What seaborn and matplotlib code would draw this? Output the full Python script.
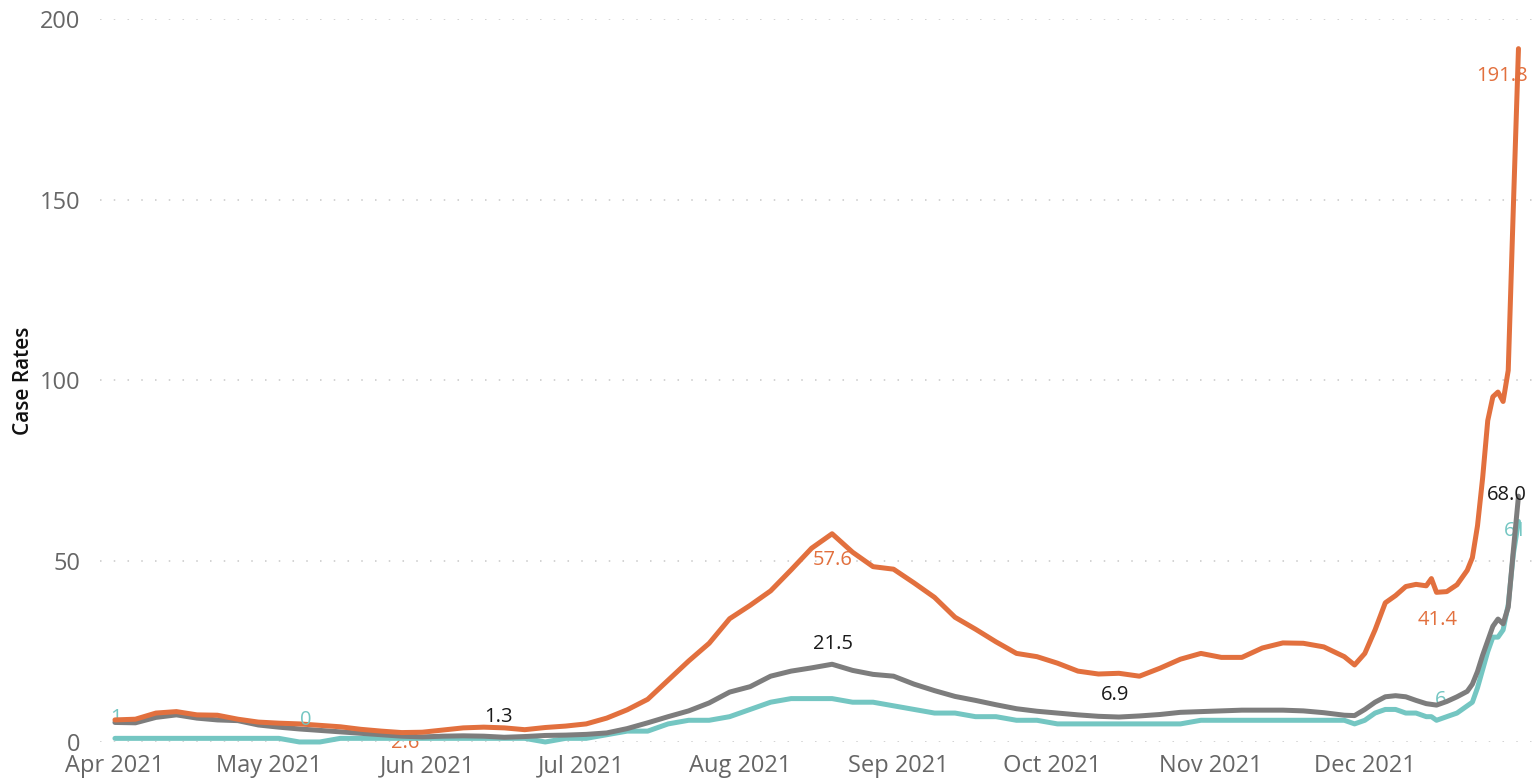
"""Case rates line chart, Apr - Dec 2021"""

import matplotlib.dates as mdates
import matplotlib.pyplot as plt
import pandas as pd
import seaborn as sns

sns.set_theme(style="white")
plt.rcParams["font.family"] = ["Open Sans", "DejaVu Sans"]

START = pd.Timestamp("2021-04-01")

# sample days (offset from 1 Apr 2021), denser near the December surge
day_offsets = list(range(0, 241, 4)) + [
    242, 244, 246, 248, 250, 252, 254, 256, 257, 258, 260, 262,
    264, 265, 266, 267, 268, 269, 270, 271, 272, 273, 274,
]

rate_high = [
    6.1, 6.3, 8.0, 8.4, 7.5, 7.4, 6.3, 5.5, 5.2, 5.0, 4.6, 4.2, 3.5, 3.0, 2.6, 2.7,
    3.3, 3.9, 4.1, 3.9, 3.4, 4.0, 4.4, 5.0, 6.6, 8.9, 11.8, 17.1, 22.4, 27.3, 34.1,
    37.8, 41.8, 47.6, 53.6, 57.6, 52.5, 48.5, 47.8, 44.0, 40.0, 34.5, 31.2, 27.7,
    24.5, 23.6, 21.8, 19.6, 18.8, 19.0, 18.2, 20.4, 22.9, 24.5, 23.4, 23.4, 26.0,
    27.4, 27.3, 26.3, 23.6,
    21.3, 24.5, 31.0, 38.5, 40.5, 43.0, 43.6, 43.2, 45.2, 41.4, 41.6, 43.5,
    47.5, 51.0, 59.8, 73.0, 88.9, 95.5, 96.8, 94.2, 102.8, 148.0, 191.8,
]

rate_mid = [
    5.4, 5.3, 6.8, 7.5, 6.6, 6.1, 5.9, 4.7, 4.1, 3.6, 3.2, 2.8, 2.4, 2.0, 1.6, 1.4,
    1.6, 1.7, 1.6, 1.3, 1.5, 1.8, 1.9, 2.1, 2.5, 3.7, 5.3, 7.0, 8.6, 10.8, 13.8,
    15.3, 18.2, 19.6, 20.5, 21.5, 19.8, 18.7, 18.2, 16.0, 14.2, 12.6, 11.5, 10.3,
    9.2, 8.5, 8.0, 7.5, 7.1, 6.9, 7.2, 7.6, 8.2, 8.4, 8.6, 8.8, 8.8,
    8.8, 8.6, 8.1, 7.4,
    7.3, 9.0, 11.0, 12.5, 12.8, 12.5, 11.5, 10.6, 10.4, 10.2, 11.2, 12.5,
    14.0, 16.0, 19.5, 24.0, 28.0, 32.0, 34.0, 32.7, 37.3, 53.0, 68.0,
]

rate_low = [
    1, 1, 1, 1, 1, 1, 1, 1, 1, 0, 0, 1, 1, 1, 1, 1,
    1, 1, 1, 1, 1, 0, 1, 1, 2, 3, 3, 5, 6, 6, 7,
    9, 11, 12, 12, 12, 11, 11, 10, 9, 8, 8, 7, 7,
    6, 6, 5, 5, 5, 5, 5, 5, 5, 6, 6, 6, 6,
    6, 6, 6, 6,
    5, 6, 8, 9, 9, 8, 8, 7, 7, 6, 7, 8,
    10, 11, 15, 20, 25, 29, 29, 31, 38, 52, 61,
]

series_names = ["low", "mid", "high"]
series_colors = {"low": "#74C6C2", "mid": "#7D7D7D", "high": "#E2703E"}
label_colors = {"low": "#74C6C2", "mid": "#1A1A1A", "high": "#E2703E"}

dates = START + pd.to_timedelta(day_offsets, unit="D")
values = {"low": rate_low, "mid": rate_mid, "high": rate_high}

df = pd.concat(
    [pd.DataFrame({"date": dates, "rate": values[name], "series": name})
     for name in series_names],
    ignore_index=True,
)

# data labels: (series, day offset, text, dx px, dy px, drawn under lines)
point_labels = [
    ("high", 274, "191.8", -16, -27, False),
    ("high", 140, "57.6", 1, -26, False),
    ("high", 258, "41.4", 1, -28, False),
    ("high", 56, "2.6", 3, -10, True),
    ("mid", 76, "1.3", -6, 20, False),
    ("mid", 140, "21.5", 1, 20, False),
    ("mid", 196, "6.9", -4, 22, False),
    ("mid", 274, "68.0", -12, 1, False),
    ("low", 0, "1", 1, 20, True),
    ("low", 36, "0", 6, 22, False),
    ("low", 258, "6", 4, 20, True),
    ("low", 274, "61", -3, -10, True),
]

fig = plt.figure(figsize=(15.4, 7.83), dpi=100)
ax = fig.add_axes([0.065, 0.0524, 0.932, 0.9233])

sns.lineplot(data=df, x="date", y="rate", hue="series", hue_order=series_names,
             palette=series_colors, linewidth=3.6, legend=False, ax=ax)
for line in ax.lines:
    line.set_clip_on(False)
    line.set_zorder(3)
    line.set_solid_joinstyle("round")

for name, day, text, dx, dy, under in point_labels:
    i = day_offsets.index(day)
    ax.annotate(text, (dates[i], values[name][i]), xytext=(dx, dy),
                textcoords="offset pixels", ha="center", va="center",
                fontsize=14.5, color=label_colors[name],
                zorder=2 if under else 4, annotation_clip=False)

ax.set_ylim(0, 200)
ax.set_yticks([0, 50, 100, 150, 200])
ax.set_xlim(START - pd.Timedelta(days=2.9), START + pd.Timedelta(days=277.3))
ax.xaxis.set_major_locator(mdates.MonthLocator(bymonth=range(4, 13)))
ax.xaxis.set_major_formatter(mdates.DateFormatter("%b %Y"))

ax.yaxis.grid(True, color="#C8C8C8", linestyle=(0, (1, 8)), linewidth=1.1)
ax.xaxis.grid(False)
sns.despine(ax=ax, left=True, bottom=True)

ax.tick_params(axis="y", length=0, pad=14, labelsize=17, labelcolor="#666666")
ax.tick_params(axis="x", length=0, pad=9, labelsize=17, labelcolor="#666666")

ax.set_xlabel("")
ax.set_ylabel("Case Rates", fontsize=15, fontweight="semibold", color="#111111")
ax.yaxis.set_label_coords(-0.046, 0.5)

fig.savefig("out.png", dpi=100)
